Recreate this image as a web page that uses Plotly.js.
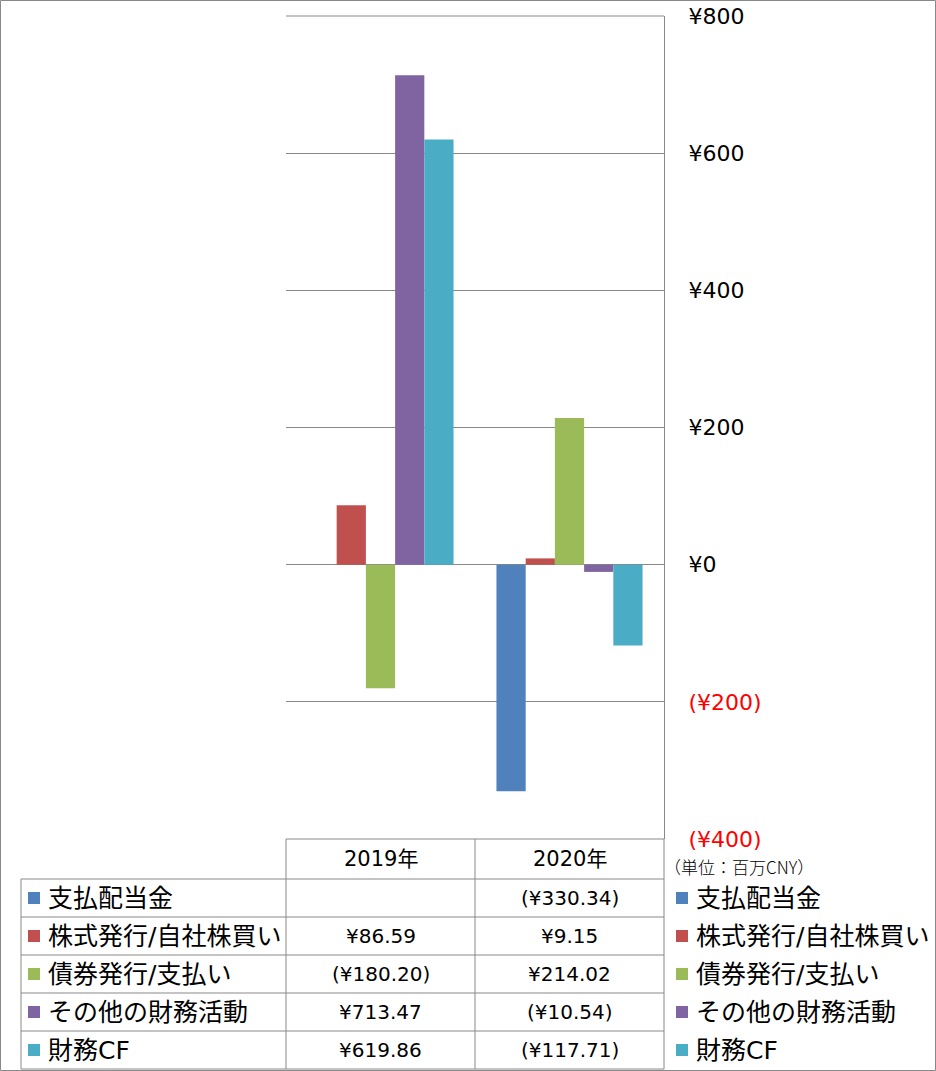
<!DOCTYPE html>
<html>
<head>
<meta charset="utf-8">
<script src="https://cdn.plot.ly/plotly-3.0.1.min.js"></script>
<style>
html,body{margin:0;padding:0;background:#fff;}
#chart{width:936px;height:1071px;}
</style>
</head>
<body>
<div id="chart"></div>
<script>
// ---- data ----
const categories = ['2019年', '2020年'];
const seriesNames = ['支払配当金', '株式発行/自社株買い', '債券発行/支払い', 'その他の財務活動', '財務CF'];
const dividends = [null, -330.34];
const stockIssue = [86.59, 9.15];
const bondIssue = [-180.20, 214.02];
const otherFinancing = [713.47, -10.54];
const financingCF = [619.86, -117.71];
const tickValues = [-400, -200, 0, 200, 400, 600, 800];
const unitLabel = '（単位：百万CNY）';

// ---- styling ----
const seriesValues = [dividends, stockIssue, bondIssue, otherFinancing, financingCF];
const colors = ['#4F81BD', '#C0504D', '#9BBB59', '#8064A2', '#4BACC6'];
const W = 936, H = 1071;
const X = px => px / W;
const Y = py => 1 - py / H;
const FONT = 'DejaVu Sans, "Noto Sans CJK JP", sans-serif';
const GRID = '#898989';

function fmtMoney(v) {
  if (v === null || v === undefined) return '';
  const s = '¥' + Math.abs(v).toFixed(2);
  return v < 0 ? '(' + s + ')' : s;
}
function fmtTick(v) {
  if (v < 0) return '<span style="color:#FF0000">(¥' + Math.abs(v) + ')</span>';
  return '¥' + v;
}

const traces = seriesNames.map((name, i) => ({
  type: 'bar',
  name: name,
  x: categories,
  y: seriesValues[i],
  marker: {color: colors[i], line: {width: 0}},
  hoverinfo: 'skip'
}));

// plot area geometry (px)
const plotL = 286, plotR = 664, plotT = 16, plotB = 839;
const colEdges = [21, 286, 475, 664];
const headerTop = 839, rowTop = 879, rowH = 38;

const shapes = [];
const annotations = [];
// outer border
shapes.push({type: 'rect', xref: 'paper', yref: 'paper', x0: X(0.5), x1: X(935.5), y0: Y(1070.5), y1: Y(0.5), line: {color: GRID, width: 1}});
// top gridline of plot area
shapes.push({type: 'line', xref: 'paper', yref: 'paper', x0: X(plotL), x1: X(plotR), y0: Y(plotT), y1: Y(plotT), line: {color: GRID, width: 1}});
// table horizontal lines
shapes.push({type: 'line', xref: 'paper', yref: 'paper', x0: X(plotL), x1: X(plotR), y0: Y(headerTop), y1: Y(headerTop), line: {color: GRID, width: 1}});
for (let r = 0; r <= seriesNames.length; r++) {
  const yy = rowTop + r * rowH;
  shapes.push({type: 'line', xref: 'paper', yref: 'paper', x0: X(colEdges[0]), x1: X(plotR), y0: Y(yy), y1: Y(yy), line: {color: GRID, width: 1}});
}
// table vertical lines
const tableBottom = rowTop + seriesNames.length * rowH;
shapes.push({type: 'line', xref: 'paper', yref: 'paper', x0: X(colEdges[0]), x1: X(colEdges[0]), y0: Y(rowTop), y1: Y(tableBottom), line: {color: GRID, width: 1}});
for (let c = 1; c < colEdges.length; c++) {
  shapes.push({type: 'line', xref: 'paper', yref: 'paper', x0: X(colEdges[c]), x1: X(colEdges[c]), y0: Y(headerTop), y1: Y(tableBottom), line: {color: GRID, width: 1}});
}
// header
categories.forEach((cat, c) => {
  annotations.push({xref: 'paper', yref: 'paper', x: X((colEdges[c + 1] + colEdges[c + 2]) / 2), y: Y(headerTop + 20),
    xanchor: 'center', yanchor: 'middle', showarrow: false, text: cat, font: {family: FONT, size: 21, color: '#000'}});
});
// rows
seriesNames.forEach((name, r) => {
  const cy = rowTop + r * rowH + rowH / 2;
  // left key + label
  shapes.push({type: 'rect', xref: 'paper', yref: 'paper', x0: X(28), x1: X(40), y0: Y(cy + 6), y1: Y(cy - 6), fillcolor: colors[r], line: {width: 0}});
  annotations.push({xref: 'paper', yref: 'paper', x: X(46), y: Y(cy), xanchor: 'left', yanchor: 'middle', showarrow: false,
    text: name, font: {family: FONT, size: 25, color: '#000'}});
  // values
  categories.forEach((cat, c) => {
    annotations.push({xref: 'paper', yref: 'paper', x: X((colEdges[c + 1] + colEdges[c + 2]) / 2), y: Y(cy), xanchor: 'center', yanchor: 'middle', showarrow: false,
      text: fmtMoney(seriesValues[r][c]), font: {family: FONT, size: 20, color: '#000'}});
  });
  // right legend
  shapes.push({type: 'rect', xref: 'paper', yref: 'paper', x0: X(676), x1: X(688), y0: Y(cy + 6), y1: Y(cy - 6), fillcolor: colors[r], line: {width: 0}});
  annotations.push({xref: 'paper', yref: 'paper', x: X(694), y: Y(cy), xanchor: 'left', yanchor: 'middle', showarrow: false,
    text: name, font: {family: FONT, size: 25, color: '#000'}});
});
// unit label
annotations.push({xref: 'paper', yref: 'paper', x: X(662), y: Y(866), xanchor: 'left', yanchor: 'middle', showarrow: false,
  text: unitLabel, font: {family: '"Noto Sans CJK JP", sans-serif', size: 17, color: '#000', weight: 300}});

const layout = {
  width: W, height: H,
  margin: {l: 0, r: 0, t: 0, b: 0, pad: 0},
  paper_bgcolor: '#fff', plot_bgcolor: '#fff',
  showlegend: false,
  barmode: 'group', bargap: 0.227, bargroupgap: 0,
  xaxis: {domain: [X(plotL), X(plotR)], type: 'category', showticklabels: false, ticks: '', showgrid: false, zeroline: false, showline: false, fixedrange: true},
  yaxis: {domain: [Y(plotB), Y(plotT)], range: [-400, 800], side: 'right', tickvals: tickValues, ticktext: tickValues.map(fmtTick),
    ticks: '', ticklabelstandoff: 19, showgrid: true, gridcolor: GRID, gridwidth: 1, zeroline: true, zerolinecolor: GRID, zerolinewidth: 1,
    showline: true, linecolor: GRID, linewidth: 1, tickfont: {family: FONT, size: 22, color: '#000'}, fixedrange: true},
  shapes: shapes,
  annotations: annotations
};

Plotly.newPlot('chart', traces, layout, {displayModeBar: false, staticPlot: true});
</script>
</body>
</html>
